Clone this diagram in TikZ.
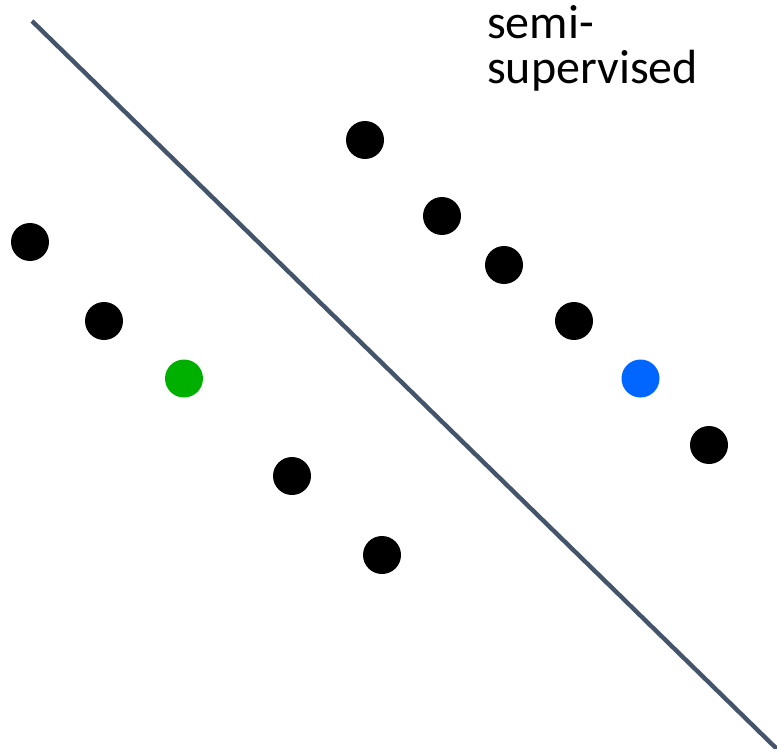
\documentclass[tikz,border=0pt]{standalone}
\usepackage{fontspec}
\setmainfont{Carlito}
\definecolor{linecol}{HTML}{44546A}
\definecolor{greendot}{HTML}{00B000}
\definecolor{bluedot}{HTML}{0066FF}
\begin{document}
\begin{tikzpicture}[x=1pt,y=-1pt,
  dot/.style={circle,fill=#1,inner sep=0pt,minimum size=38pt},
  dot/.default=black,
  lbl/.style={inner sep=0pt,anchor=base west,font=\fontsize{48}{44}\selectfont}]
\useasboundingbox (0,0) rectangle (777,749);
\coordinate (l1) at (32,21);
\coordinate (l2) at (778,750);
\draw[linecol,line width=4.4pt] (l1) -- (l2);
\node[dot] (a1) at (365,140) {};
\node[dot] (a2) at (442,216) {};
\node[dot] (a3) at (504,265) {};
\node[dot] (a4) at (574,321) {};
\node[dot=bluedot] (a5) at (640.5,378.5) {};
\node[dot] (a6) at (709,445) {};
\node[dot] (b1) at (30,242) {};
\node[dot] (b2) at (104,321) {};
\node[dot=greendot] (b3) at (184,378.5) {};
\node[dot] (b4) at (292,476) {};
\node[dot] (b5) at (382,555) {};
\node[lbl] (t1) at (487,39) {semi-};
\node[lbl] (t2) at (487,84) {supervised};
\end{tikzpicture}
\end{document}
